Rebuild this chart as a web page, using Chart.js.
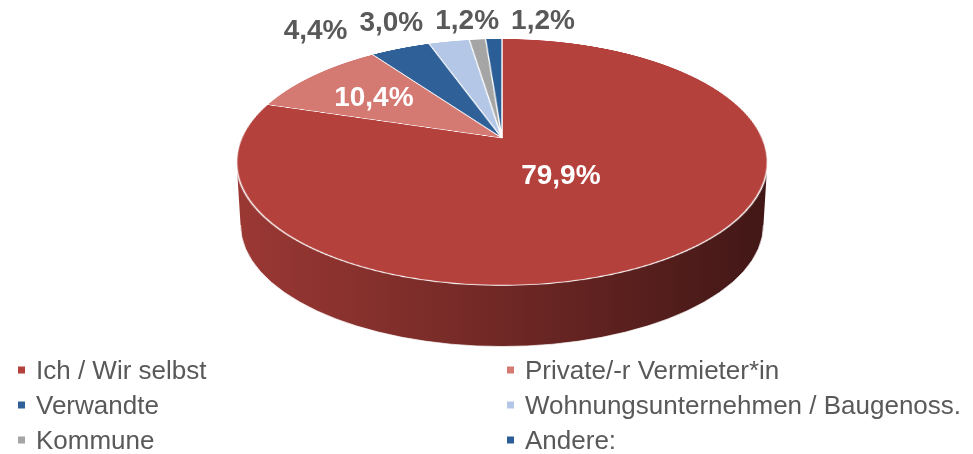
<!DOCTYPE html>
<html>
<head>
<meta charset="utf-8">
<script src="https://cdn.jsdelivr.net/npm/chart.js@4/dist/chart.umd.min.js"></script>
<style>
    html, body { margin: 0; padding: 0; background: #fff; overflow: hidden; }
    #stage { position: relative; width: 973px; height: 454px; }
    #stage canvas { position: absolute; display: block; }
    #sideLayer, #textLayer { left: 0; top: 0; }
    #pieBox {
        position: absolute;
        width: 522px; height: 522px;
        transform-origin: 50% 50%;
    }
</style>
</head>
<body>
<div id="stage">
    <canvas id="sideLayer" width="973" height="454"></canvas>
    <div id="pieBox"><canvas id="ownerChart" width="522" height="522"></canvas></div>
    <canvas id="textLayer" width="973" height="454"></canvas>
</div>
<script>
// Eigentümer der Wohnung - pie with a tilted 3D look
const categories = ['Ich / Wir selbst', 'Private/-r Vermieter*in', 'Verwandte', 'Wohnungsunternehmen / Baugenoss.', 'Kommune', 'Andere:'];
const shares = [79.9, 10.4, 4.4, 3.0, 1.2, 1.2];
const sliceColors = ['#B4413C', '#D47A73', '#2F6097', '#B4C7E7', '#A5A5A5', '#2B5E96'];

// view settings for the tilt
const view = { cx: 502, apexY: 138, tilt: 62.9, persp: 1186, depth: 63 };
const textGray = '#595959';
const fontFamily = '"Liberation Sans", Arial, sans-serif';

const pieBox = document.getElementById('pieBox');
pieBox.style.left = (view.cx - 261) + 'px';
pieBox.style.top = (view.apexY - 261) + 'px';
pieBox.style.transform = `perspective(${view.persp}px) rotateX(${view.tilt}deg)`;

const sinA = Math.sin(view.tilt * Math.PI / 180);
const cosA = Math.cos(view.tilt * Math.PI / 180);

function pctText(v) {
    return v.toFixed(1).replace('.', ',') + '%';
}

function shade(hex, k) {
    const n = parseInt(hex.slice(1), 16);
    const r = Math.round(((n >> 16) & 255) * k);
    const g = Math.round(((n >> 8) & 255) * k);
    const b = Math.round((n & 255) * k);
    return `rgb(${r}, ${g}, ${b})`;
}

// same projection the css transform does, for points of the pie
function project(R, angle, frac) {
    const x = frac * R * Math.cos(angle);
    const y = frac * R * Math.sin(angle);
    const s = view.persp / (view.persp - y * sinA);
    return { x: view.cx + x * s, y: view.apexY + y * cosA * s };
}

function drawDecor(chart) {
    const arcs = chart.getDatasetMeta(0).data;
    const R = arcs[0].outerRadius;
    const u = R * sinA / view.persp;
    const yTop = -R * cosA / (1 + u);
    const yBot = R * cosA / (1 - u);
    const ell = {
        cx: view.cx,
        cy: view.apexY + (yTop + yBot) / 2,
        rx: R / Math.sqrt(1 - u * u),
        ry: (yBot - yTop) / 2
    };

    // side wall
    const side = document.getElementById('sideLayer').getContext('2d');
    side.clearRect(0, 0, 973, 454);
    const toParam = (theta) => {
        const p = project(R, theta, 1);
        let t = Math.atan2((p.y - ell.cy) / ell.ry, (p.x - ell.cx) / ell.rx);
        while (t - theta > Math.PI) t -= 2 * Math.PI;
        while (t - theta < -Math.PI) t += 2 * Math.PI;
        return t;
    };
    arcs.forEach((arc, i) => {
        const a = Math.max(toParam(arc.startAngle), 0);
        const b = Math.min(toParam(arc.endAngle), Math.PI);
        if (b <= a) return;
        const grad = side.createLinearGradient(ell.cx - ell.rx, 0, ell.cx + ell.rx, 0);
        grad.addColorStop(0, shade(sliceColors[i], 0.86));
        grad.addColorStop(0.5, shade(sliceColors[i], 0.62));
        grad.addColorStop(1, shade(sliceColors[i], 0.36));
        side.beginPath();
        side.ellipse(ell.cx, ell.cy, ell.rx, ell.ry, 0, a, b, false);
        side.ellipse(ell.cx, ell.cy + view.depth, ell.rx * 0.985, ell.ry * 0.985, 0, b, a, true);
        side.closePath();
        side.fillStyle = grad;
        side.fill();
        side.beginPath();
        side.ellipse(ell.cx, ell.cy + view.depth, ell.rx * 0.985, ell.ry * 0.985, 0, a, b, false);
        side.strokeStyle = 'rgba(255,255,255,0.7)';
        side.lineWidth = 1;
        side.stroke();
    });

    // percent labels
    const txt = document.getElementById('textLayer').getContext('2d');
    txt.clearRect(0, 0, 973, 454);
    const size = 28;
    txt.font = `bold ${size}px ${fontFamily}`;
    txt.textAlign = 'center';
    txt.textBaseline = 'alphabetic';
    const outside = [];
    arcs.forEach((arc, i) => {
        const mid = (arc.startAngle + arc.endAngle) / 2;
        const sweep = arc.endAngle - arc.startAngle;
        const text = pctText(shares[i]);
        if (shares[i] >= 10) {
            const centroid = 4 * Math.sin(sweep / 2) / (3 * sweep);
            const p = project(R, mid, Math.max(centroid, 0.36));
            txt.fillStyle = '#fff';
            txt.fillText(text, p.x, p.y + 0.358 * size);
        } else {
            const p = project(R, mid, 1.15);
            outside.push({ text, w: txt.measureText(text).width, x: p.x, y: p.y - 8 });
        }
    });
    outside.sort((p, q) => p.x - q.x);
    const anchorMean = outside.reduce((s, p) => s + p.x, 0) / outside.length;
    for (let k = 1; k < outside.length; k++) {
        const prev = outside[k - 1];
        const minX = prev.x + (prev.w + outside[k].w) / 2 + 12;
        if (outside[k].x < minX) outside[k].x = minX;
    }
    const spreadMean = outside.reduce((s, p) => s + p.x, 0) / outside.length;
    txt.fillStyle = textGray;
    outside.forEach(p => {
        txt.fillText(p.text, p.x + anchorMean - spreadMean - 20, p.y + 0.358 * size);
    });

    // two column legend
    const legendSize = 26;
    const colX = [18, 507];
    const rowY = [370, 405, 440];
    txt.font = `${legendSize}px ${fontFamily}`;
    txt.textAlign = 'left';
    categories.forEach((label, i) => {
        const x = colX[i % 2];
        const y = rowY[Math.floor(i / 2)];
        txt.fillStyle = sliceColors[i];
        txt.fillRect(x, y - 3.5, 7, 7);
        txt.fillStyle = textGray;
        txt.fillText(label, x + 18, y + 0.358 * legendSize);
    });
}

const decorPlugin = {
    id: 'decor',
    afterDraw(chart) {
        drawDecor(chart);
    }
};

const ctx = document.getElementById('ownerChart').getContext('2d');
new Chart(ctx, {
    type: 'pie',
    data: {
        labels: categories,
        datasets: [{
            data: shares,
            backgroundColor: sliceColors,
            borderColor: '#ffffff',
            borderWidth: 1.4
        }]
    },
    options: {
        responsive: false,
        animation: false,
        devicePixelRatio: 2,
        events: [],
        layout: { padding: 0 },
        plugins: {
            legend: { display: false },
            tooltip: { enabled: false }
        }
    },
    plugins: [decorPlugin]
});
</script>
</body>
</html>
